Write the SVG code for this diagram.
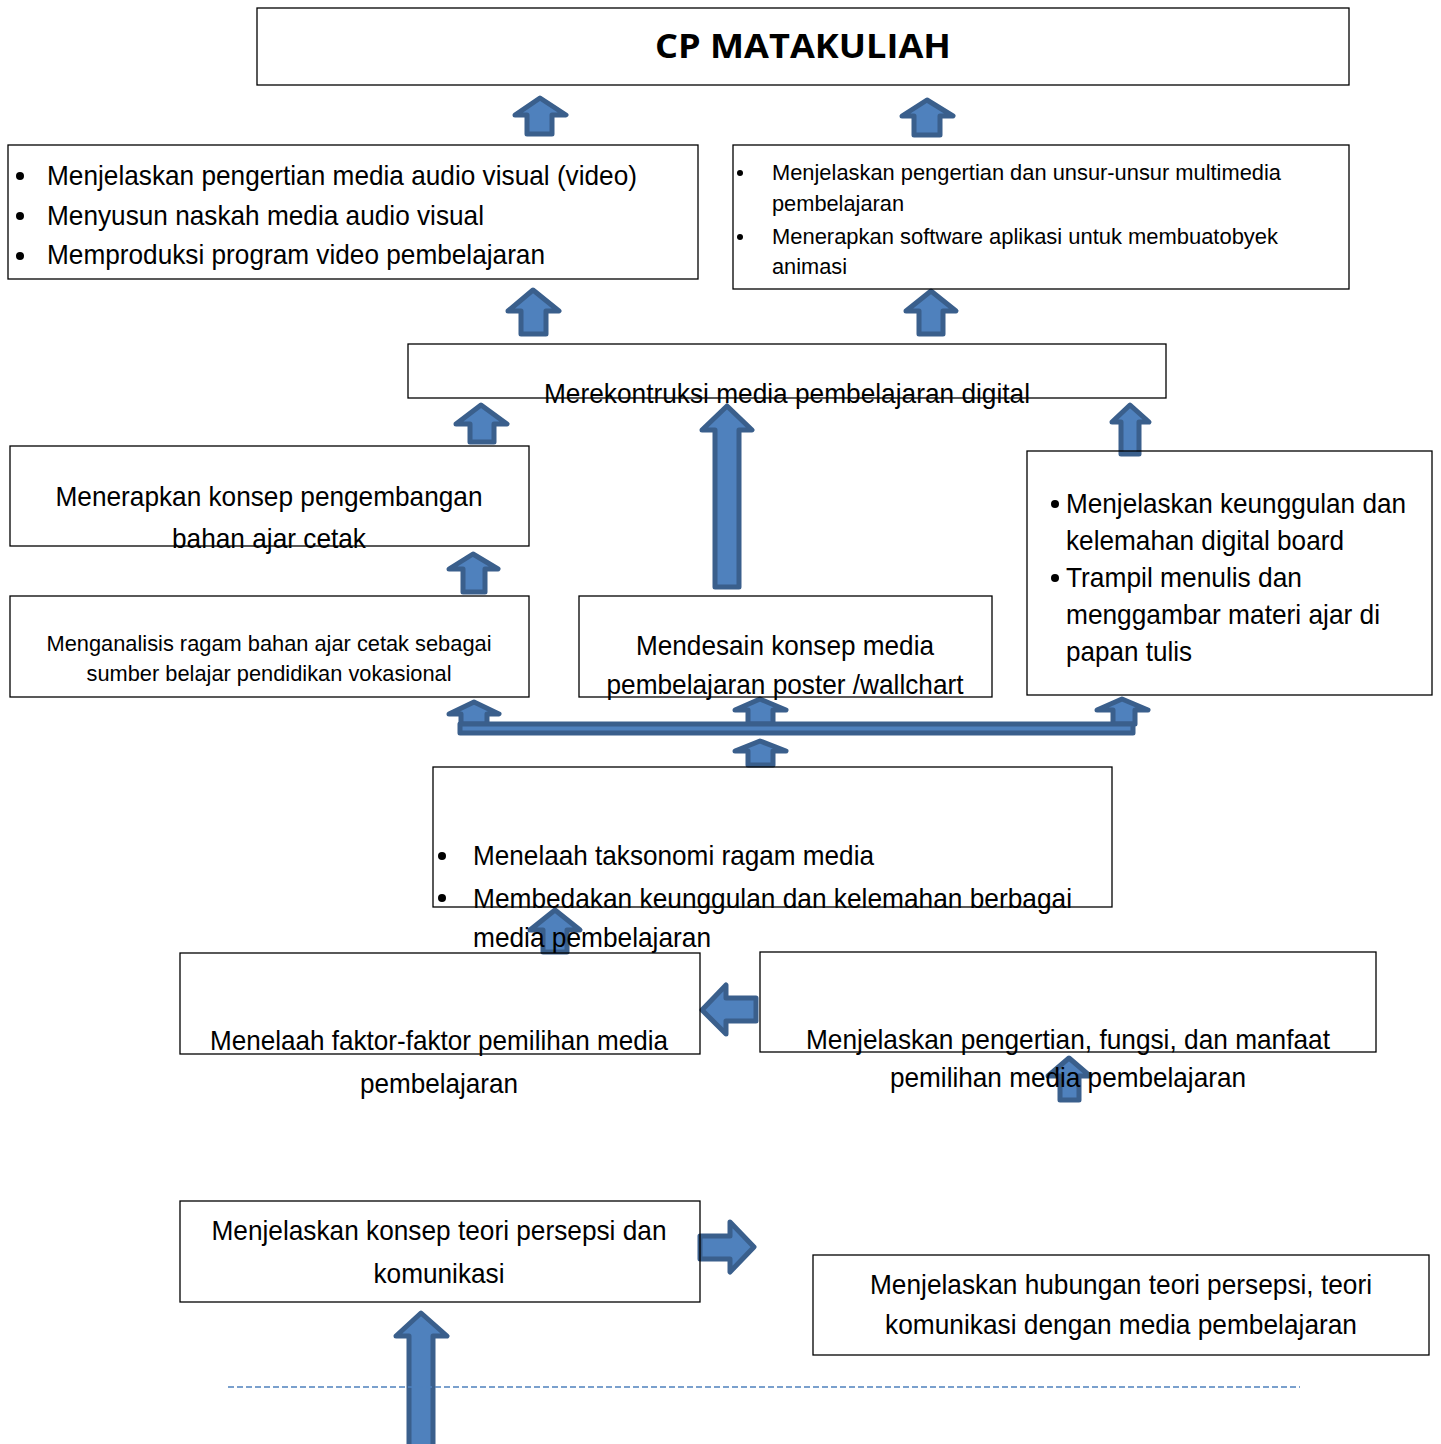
<svg xmlns="http://www.w3.org/2000/svg" width="1441" height="1444" viewBox="0 0 1441 1444">
<style>
.box{fill:none;stroke:#000;stroke-width:1.3}
.t{font-family:"Liberation Sans Narrow","Liberation Sans",Arial,sans-serif;font-size:28px;fill:#000}
.s{font-family:"Liberation Sans Narrow","Liberation Sans",Arial,sans-serif;font-size:22px;fill:#000}
.c{text-anchor:middle}
.title{font-family:"Open Sans","Liberation Sans",Arial,sans-serif;font-size:34px;font-weight:bold;fill:#000;text-anchor:middle}
.ar{fill:#4f81bd;stroke:#3a5f8c;stroke-width:5;stroke-linejoin:round}
.dot{fill:#000}
</style>
<rect width="1441" height="1444" fill="#fff"/>
<g id="connectors">
<path class="ar" d="M540,98 L566,115 L552,115 L552,134 L527,134 L527,115 L515,115 Z"/>
<path class="ar" d="M927,100 L953,116 L940,116 L940,135 L914,135 L914,116 L902,116 Z"/>
<path class="ar" d="M533,290 L559,311 L546,311 L546,334 L521,334 L521,311 L508,311 Z"/>
<path class="ar" d="M931,291 L956,311 L943,311 L943,334 L919,334 L919,311 L906,311 Z"/>
<path class="ar" d="M481,405 L507,424 L494,424 L494,442 L470,442 L470,424 L456,424 Z"/>
<path class="ar" d="M727,406 L752,430 L739,430 L739,587 L715,587 L715,430 L702,430 Z"/>
<path class="ar" d="M1130,405 L1149,422 L1139,422 L1139,454 L1121,454 L1121,422 L1112,422 Z"/>
<path class="ar" d="M473,554 L498,569 L485,569 L485,592 L463,592 L463,569 L449,569 Z"/>
<path class="ar" d="M474,702 L499,714 L487,714 L487,724 L461,724 L461,714 L449,714 Z"/>
<path class="ar" d="M760,699 L786,710 L773,710 L773,724 L748,724 L748,710 L735,710 Z"/>
<path class="ar" d="M1122,699 L1148,710 L1135,710 L1135,724 L1113,724 L1113,710 L1097,710 Z"/>
<rect class="ar" x="460" y="724" width="673" height="9"/>
<path class="ar" d="M760,741 L786,751 L773,751 L773,765 L748,765 L748,751 L735,751 Z"/>
<path class="ar" d="M555,910 L580,930 L567,930 L567,952 L543,952 L543,930 L530,930 Z"/>
<path class="ar" d="M702,1010 L726,985 L726,998 L756,998 L756,1021 L726,1021 L726,1034 Z"/>
<path class="ar" d="M1069,1058 L1090,1076 L1079,1076 L1079,1100 L1060,1100 L1060,1076 L1048,1076 Z"/>
<path class="ar" d="M700,1236 L730,1236 L730,1222 L754,1247 L730,1272 L730,1259 L700,1259 Z"/>
<path class="ar" d="M421,1313 L447,1336 L433,1336 L433,1450 L409,1450 L409,1336 L396,1336 Z"/>
<line x1="228" y1="1387" x2="1300" y2="1387" stroke="#4f81bd" stroke-width="1.5" stroke-dasharray="6,3"/>
</g>
<g id="cp">
<rect class="box" x="257" y="8" width="1092" height="77"/>
<text class="title" x="803" y="58" textLength="296" lengthAdjust="spacingAndGlyphs">CP MATAKULIAH</text>
</g>
<g id="video">
<rect class="box" x="8" y="145" width="690" height="134"/>
<circle class="dot" cx="20" cy="176" r="4"/><circle class="dot" cx="20" cy="216" r="4"/><circle class="dot" cx="20" cy="256" r="4"/>
<text class="t" x="47" y="185" textLength="590" lengthAdjust="spacingAndGlyphs">Menjelaskan pengertian media audio visual (video)</text>
<text class="t" x="47" y="225" textLength="437" lengthAdjust="spacingAndGlyphs">Menyusun naskah media audio visual</text>
<text class="t" x="47" y="264" textLength="498" lengthAdjust="spacingAndGlyphs">Memproduksi program video pembelajaran</text>
</g>
<g id="multimedia">
<rect class="box" x="733" y="145" width="616" height="144"/>
<circle class="dot" cx="740" cy="173" r="3"/><circle class="dot" cx="740" cy="237" r="3"/>
<text class="s" x="772" y="180" textLength="509" lengthAdjust="spacingAndGlyphs">Menjelaskan pengertian dan unsur-unsur multimedia</text>
<text class="s" x="772" y="211" textLength="132" lengthAdjust="spacingAndGlyphs">pembelajaran</text>
<text class="s" x="772" y="244" textLength="506" lengthAdjust="spacingAndGlyphs">Menerapkan software aplikasi untuk membuatobyek</text>
<text class="s" x="772" y="274" textLength="75" lengthAdjust="spacingAndGlyphs">animasi</text>
</g>
<g id="digital">
<rect class="box" x="408" y="344" width="758" height="54"/>
<text class="t c" x="787" y="403" textLength="486" lengthAdjust="spacingAndGlyphs">Merekontruksi media pembelajaran digital</text>
</g>
<g id="cetak">
<rect class="box" x="10" y="446" width="519" height="100"/>
<text class="t c" x="269" y="506" textLength="427" lengthAdjust="spacingAndGlyphs">Menerapkan konsep pengembangan</text>
<text class="t c" x="269" y="548" textLength="194" lengthAdjust="spacingAndGlyphs">bahan ajar cetak</text>
</g>
<g id="board">
<rect class="box" x="1027" y="451" width="405" height="244"/>
<circle class="dot" cx="1055" cy="504" r="4"/><circle class="dot" cx="1055" cy="578" r="4"/>
<text class="t" x="1066" y="513" textLength="340" lengthAdjust="spacingAndGlyphs">Menjelaskan keunggulan dan</text>
<text class="t" x="1066" y="550" textLength="278" lengthAdjust="spacingAndGlyphs">kelemahan digital board</text>
<text class="t" x="1066" y="587" textLength="236" lengthAdjust="spacingAndGlyphs">Trampil menulis dan</text>
<text class="t" x="1066" y="624" textLength="314" lengthAdjust="spacingAndGlyphs">menggambar materi ajar di</text>
<text class="t" x="1066" y="661" textLength="126" lengthAdjust="spacingAndGlyphs">papan tulis</text>
</g>
<g id="analisis">
<rect class="box" x="10" y="596" width="519" height="101"/>
<text class="s c" x="269" y="651" textLength="445" lengthAdjust="spacingAndGlyphs">Menganalisis ragam bahan ajar cetak sebagai</text>
<text class="s c" x="269" y="681" textLength="365" lengthAdjust="spacingAndGlyphs">sumber belajar pendidikan vokasional</text>
</g>
<g id="poster">
<rect class="box" x="579" y="596" width="413" height="101"/>
<text class="t c" x="785" y="655" textLength="298" lengthAdjust="spacingAndGlyphs">Mendesain konsep media</text>
<text class="t c" x="785" y="694" textLength="357" lengthAdjust="spacingAndGlyphs">pembelajaran poster /wallchart</text>
</g>
<g id="taksonomi">
<rect class="box" x="433" y="767" width="679" height="140"/>
<circle class="dot" cx="442" cy="856" r="4"/><circle class="dot" cx="442" cy="898" r="4"/>
<text class="t" x="473" y="865" textLength="401" lengthAdjust="spacingAndGlyphs">Menelaah taksonomi ragam media</text>
<text class="t" x="473" y="908" textLength="599" lengthAdjust="spacingAndGlyphs">Membedakan keunggulan dan kelemahan berbagai</text>
<text class="t" x="473" y="947" textLength="238" lengthAdjust="spacingAndGlyphs">media pembelajaran</text>
</g>
<g id="faktor">
<rect class="box" x="180" y="953" width="520" height="101"/>
<text class="t c" x="439" y="1050" textLength="458" lengthAdjust="spacingAndGlyphs">Menelaah faktor-faktor pemilihan media</text>
<text class="t c" x="439" y="1093" textLength="158" lengthAdjust="spacingAndGlyphs">pembelajaran</text>
</g>
<g id="fungsi">
<rect class="box" x="760" y="952" width="616" height="100"/>
<text class="t c" x="1068" y="1049" textLength="524" lengthAdjust="spacingAndGlyphs">Menjelaskan pengertian, fungsi, dan manfaat</text>
<text class="t c" x="1068" y="1087" textLength="356" lengthAdjust="spacingAndGlyphs">pemilihan media pembelajaran</text>
</g>
<g id="persepsi">
<rect class="box" x="180" y="1201" width="520" height="101"/>
<text class="t c" x="439" y="1240" textLength="455" lengthAdjust="spacingAndGlyphs">Menjelaskan konsep teori persepsi dan</text>
<text class="t c" x="439" y="1283" textLength="131" lengthAdjust="spacingAndGlyphs">komunikasi</text>
</g>
<g id="hubungan">
<rect class="box" x="813" y="1255" width="616" height="100"/>
<text class="t c" x="1121" y="1294" textLength="502" lengthAdjust="spacingAndGlyphs">Menjelaskan hubungan teori persepsi, teori</text>
<text class="t c" x="1121" y="1334" textLength="472" lengthAdjust="spacingAndGlyphs">komunikasi dengan media pembelajaran</text>
</g>
</svg>
